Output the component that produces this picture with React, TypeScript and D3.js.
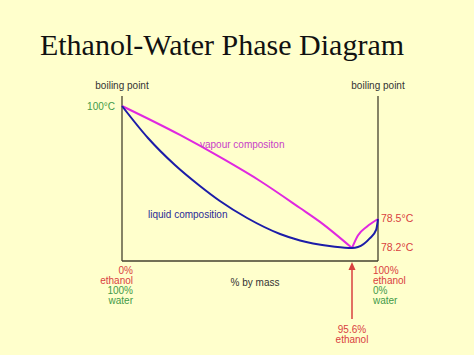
import React from "react";
import * as d3 from "d3";

const W = 474;
const H = 355;

// % ethanol by mass (x) and boiling temperature in °C (y)
const liquidPct = [0, 10.8, 22.0, 32.4, 40.7, 52.0, 65.7, 74.0, 79.4, 87.7, 95.6, 96.6, 98.6, 99.7, 100];
const liquidTemp = [100, 93.91, 88.77, 84.78, 81.92, 78.69, 78.345, 78.278, 78.247, 78.216, 78.2, 78.21, 78.3, 78.39, 78.5];

// vapour curve: water side of the azeotrope, then ethanol side
const vapourPctA = [0, 24.1, 42.8, 57.4, 74.0, 82.3, 95.6];
const vapourTempA = [100, 94.49, 89.73, 85.73, 80.59, 78.47, 78.2];
const vapourPctB = [95.6, 96.6, 98.1, 100];
const vapourTempB = [78.2, 78.33, 78.42, 78.5];

const azeotropePct = 95.6;
const keyTemps = [100, 78.5, 78.2];
const tempLabels = ["100°C", "78.5°C", "78.2°C"];
const leftBottomLabels = ["0%", "ethanol", "100%", "water"];
const rightBottomLabels = ["100%", "ethanol", "0%", "water"];
const azeotropeLabels = ["95.6%", "ethanol"];

export default function App() {
  // schematic (non-linear) axes, as drawn in the original
  const x = d3.scaleLinear().domain([0, 95.6, 100]).range([122, 352, 378]);
  const y = d3.scaleLinear().domain([78.2, 78.5, 100]).range([248, 219, 106]);

  const line = d3
    .line<[number, number]>()
    .x((d) => x(d[0]))
    .y((d) => y(d[1]))
    .curve(d3.curveMonotoneX);

  const zip = (a: number[], b: number[]): [number, number][] => a.map((p, i) => [p, b[i]]);
  const liquid = zip(liquidPct, liquidTemp);
  const vapourA = zip(vapourPctA, vapourTempA);
  const vapourB = zip(vapourPctB, vapourTempB);

  const frameTop = 96;
  const frameBottom = 261;
  const x0 = x(0);
  const x1 = x(100);
  const xa = x(azeotropePct);

  const red = "#d9413f";
  const green = "#3f9a48";
  const axisCol = "#45412f";
  const font = "Liberation Sans, Arial, sans-serif";
  const magenta = "#e028e0";

  return (
    <div style={{ position: "fixed", left: 0, top: 0, width: W, height: H, background: "#ffffcc" }}>
      <svg width={W} height={H} style={{ display: "block" }}>
        <rect width={W} height={H} fill="#ffffcc" />
        <text x={222} y={55} textAnchor="middle" fontFamily="Liberation Serif, Times New Roman, serif" fontSize={30} fill="#111">
          Ethanol-Water Phase Diagram
        </text>

        {/* frame */}
        <line x1={x0} x2={x0} y1={frameTop} y2={frameBottom} stroke={axisCol} strokeWidth={1.3} />
        <line x1={x1} x2={x1} y1={frameTop} y2={frameBottom} stroke={axisCol} strokeWidth={1.3} />
        <line x1={x0} x2={x1} y1={frameBottom} y2={frameBottom} stroke={axisCol} strokeWidth={1.3} />

        <g fontFamily={font} fontSize={10} fill="#333">
          <text x={x0} y={89} textAnchor="middle">boiling point</text>
          <text x={x1} y={89} textAnchor="middle">boiling point</text>
          <text x={255} y={286} textAnchor="middle">% by mass</text>
        </g>

        {/* curves */}
        <path d={line(vapourA) || ""} fill="none" stroke={magenta} strokeWidth={2} strokeLinejoin="round" />
        <path d={line(vapourB) || ""} fill="none" stroke={magenta} strokeWidth={2} strokeLinejoin="round" />
        <path d={line(liquid) || ""} fill="none" stroke="#1c1ca8" strokeWidth={2} strokeLinejoin="round" />

        <text x={200} y={147.5} fontFamily={font} fontSize={10} fill="#c840c8">vapour compositon</text>
        <text x={148} y={217.5} fontFamily={font} fontSize={10} fill="#2a2a98">liquid composition</text>

        {/* temperature labels */}
        <text x={115} y={y(keyTemps[0]) + 4} textAnchor="end" fontFamily={font} fontSize={10} fill={green}>
          {tempLabels[0]}
        </text>
        <text x={381} y={y(keyTemps[1]) + 3} fontFamily={font} fontSize={10.5} fill={red}>
          {tempLabels[1]}
        </text>
        <text x={381} y={y(keyTemps[2]) + 3} fontFamily={font} fontSize={10.5} fill={red}>
          {tempLabels[2]}
        </text>

        {/* composition labels */}
        <g fontFamily={font} fontSize={10}>
          {leftBottomLabels.map((t, i) => (
            <text key={"l" + i} x={133} y={273.5 + i * 10} textAnchor="end" fill={i < 2 ? red : green}>
              {t}
            </text>
          ))}
          {rightBottomLabels.map((t, i) => (
            <text key={"r" + i} x={373} y={273.5 + i * 10} fill={i < 2 ? red : green}>
              {t}
            </text>
          ))}
          {azeotropeLabels.map((t, i) => (
            <text key={"a" + i} x={xa} y={332.5 + i * 10} textAnchor="middle" fill={red}>
              {t}
            </text>
          ))}
        </g>

        {/* azeotrope arrow */}
        <line x1={xa} x2={xa} y1={319} y2={268} stroke={red} strokeWidth={1.5} />
        <path d={`M${xa},${262} L${xa - 3.5},${270} L${xa + 3.5},${270} Z`} fill={red} />
      </svg>
    </div>
  );
}
